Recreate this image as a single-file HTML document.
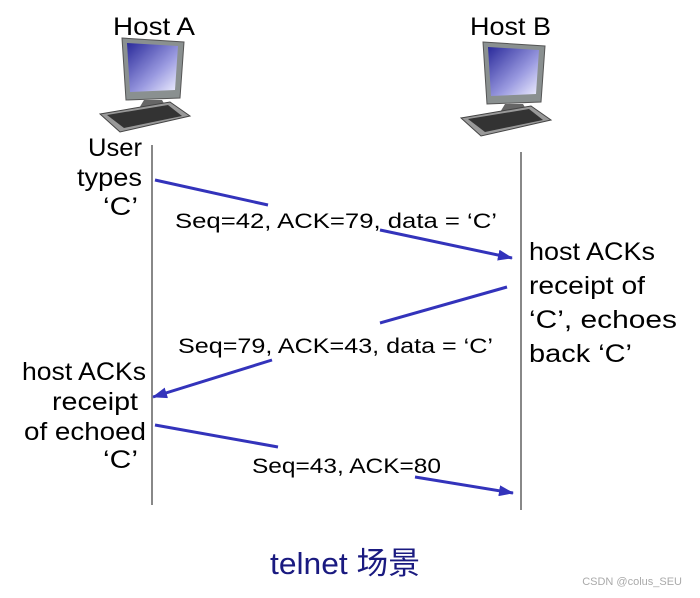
<!DOCTYPE html>
<html><head><meta charset="utf-8"><style>
body{margin:0;background:#fff}
svg text{font-family:"Liberation Sans","Noto Sans CJK SC",sans-serif;fill:#000}
</style></head><body>
<svg width="700" height="593" viewBox="0 0 700 593" xmlns="http://www.w3.org/2000/svg">
<defs>
<linearGradient id="scr" x1="0" y1="0" x2="1" y2="1"><stop offset="0" stop-color="#2a2a9a"/><stop offset="0.6" stop-color="#9a9ae0"/><stop offset="1" stop-color="#f0f0ff"/></linearGradient>
<marker id="ah" markerWidth="15" markerHeight="11" refX="14" refY="5.5" orient="auto" markerUnits="userSpaceOnUse"><path d="M0,0 L15,5.5 L0,11 z" fill="#3333bb"/></marker>
<g id="pc">
<path d="M0,0 L62,4 L58,60 L4,62 z" fill="#8a9090" stroke="#555" stroke-width="1"/>
<path d="M5,5 L56,8 L53,52 L8,54 z" fill="url(#scr)"/>
<path d="M22,62 L40,62 L46,72 L16,72 z" fill="#666"/>
<path d="M-22,76 L48,64 L68,78 L-2,94 z" fill="#999" stroke="#444" stroke-width="1"/>
<path d="M-15,77 L46,67 L60,78 L2,90 z" fill="#333"/>
</g>
</defs>
<g font-size="25">
<text x="113" y="35" textLength="82" lengthAdjust="spacingAndGlyphs">Host A</text>
<text x="470" y="35" textLength="81" lengthAdjust="spacingAndGlyphs">Host B</text>
</g>
<use href="#pc" x="122" y="38"/>
<use href="#pc" x="483" y="42"/>
<line x1="152" y1="145" x2="152" y2="505" stroke="#888" stroke-width="2"/>
<line x1="521" y1="152" x2="521" y2="510" stroke="#888" stroke-width="2"/>
<g font-size="25">
<text x="88" y="156" textLength="54" lengthAdjust="spacingAndGlyphs">User</text>
<text x="77" y="186" textLength="65" lengthAdjust="spacingAndGlyphs">types</text>
<text x="103" y="215" textLength="35" lengthAdjust="spacingAndGlyphs">‘C’</text>
<text x="529" y="260" textLength="126" lengthAdjust="spacingAndGlyphs">host ACKs</text>
<text x="529" y="294" textLength="116" lengthAdjust="spacingAndGlyphs">receipt of</text>
<text x="529" y="328" textLength="148" lengthAdjust="spacingAndGlyphs">‘C’, echoes</text>
<text x="529" y="362" textLength="103" lengthAdjust="spacingAndGlyphs">back ‘C’</text>
<text x="22" y="380" textLength="124" lengthAdjust="spacingAndGlyphs">host ACKs</text>
<text x="52" y="410" textLength="86" lengthAdjust="spacingAndGlyphs">receipt</text>
<text x="24" y="440" textLength="122" lengthAdjust="spacingAndGlyphs">of echoed</text>
<text x="103" y="468" textLength="35" lengthAdjust="spacingAndGlyphs">‘C’</text>
</g>
<g font-size="21">
<text x="175" y="228" textLength="322" lengthAdjust="spacingAndGlyphs">Seq=42, ACK=79, data = ‘C’</text>
<text x="178" y="353" textLength="315" lengthAdjust="spacingAndGlyphs">Seq=79, ACK=43, data = ‘C’</text>
<text x="252" y="473" textLength="189" lengthAdjust="spacingAndGlyphs">Seq=43, ACK=80</text>
</g>
<g stroke="#3333bb" stroke-width="3" fill="none">
<line x1="155" y1="180" x2="268" y2="205"/>
<line x1="380" y1="230" x2="512" y2="258" marker-end="url(#ah)"/>
<line x1="507" y1="287" x2="380" y2="323"/>
<line x1="272" y1="360" x2="153" y2="397" marker-end="url(#ah)"/>
<line x1="155" y1="425" x2="278" y2="447"/>
<line x1="415" y1="477" x2="513" y2="493" marker-end="url(#ah)"/>
</g>
<text x="270" y="574" font-size="31" textLength="150" lengthAdjust="spacingAndGlyphs" style="fill:#1a1a80">telnet 场景</text>
<text x="682" y="585" font-size="11" text-anchor="end" style="fill:#aaa">CSDN @colus_SEU</text>
</svg>
</body></html>
